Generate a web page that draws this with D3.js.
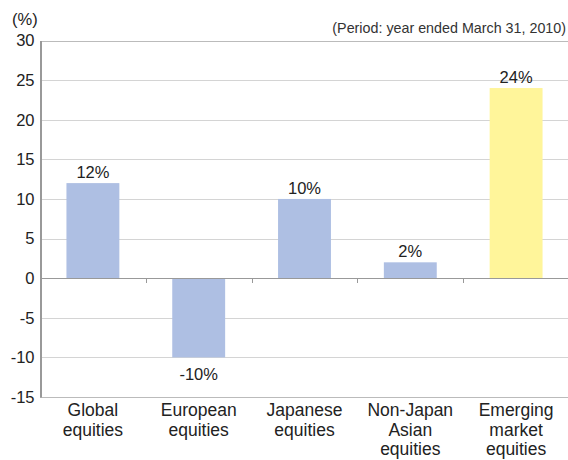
<!DOCTYPE html>
<html><head><meta charset="utf-8">
<script src="https://cdn.jsdelivr.net/npm/d3@7"></script>
<style>body{margin:0;background:#fff}svg{display:block;font-family:"Liberation Sans",Arial,sans-serif}</style>
</head><body>
<script>
const categories = [["Global","equities"],["European","equities"],["Japanese","equities"],["Non-Japan","Asian","equities"],["Emerging","market","equities"]];
const values = [12, -10, 10, 2, 24];
const barColors = ["#aebfe3","#aebfe3","#aebfe3","#aebfe3","#fff59a"];
const yTicks = [30,25,20,15,10,5,0,-5,-10,-15];

(function(){
const W=568,H=460;
const svg=d3.select("body").append("svg").attr("width",W).attr("height",H);
const mLeft=40,mRight=569,mTop=40.5,mBottom=397;
const y=d3.scaleLinear().domain([-15,30]).range([mBottom,mTop]);
const x=d3.scaleBand().domain(d3.range(categories.length)).range([mLeft,mRight]).paddingInner(0).paddingOuter(0);

// gridlines
svg.append("g").selectAll("line").data(yTicks.filter(t=>t!==0&&t!==-15)).join("line")
 .attr("x1",mLeft).attr("x2",W).attr("y1",d=>Math.round(y(d))+0.5).attr("y2",d=>Math.round(y(d))+0.5)
 .attr("stroke",d=>d===30?"#bbbbbb":"#d4d4d4").attr("stroke-width",1);

// bars
svg.append("g").selectAll("rect").data(values).join("rect")
 .attr("x",(d,i)=>x(i)+x.bandwidth()/4)
 .attr("width",x.bandwidth()/2)
 .attr("y",d=>y(Math.max(0,d)))
 .attr("height",d=>Math.abs(y(d)-y(0)))
 .attr("fill",(d,i)=>barColors[i]);

// zero line
svg.append("line").attr("x1",mLeft).attr("x2",W).attr("y1",Math.round(y(0))+0.5).attr("y2",Math.round(y(0))+0.5).attr("stroke","#999").attr("stroke-width",1);
// bottom line
svg.append("line").attr("x1",mLeft).attr("x2",W).attr("y1",Math.round(y(-15))+0.5).attr("y2",Math.round(y(-15))+0.5).attr("stroke","#bbb").attr("stroke-width",1);
// tick marks between categories at zero
svg.append("g").selectAll("line").data(d3.range(1,categories.length)).join("line")
 .attr("x1",i=>Math.round(x(i))+0.5).attr("x2",i=>Math.round(x(i))+0.5)
 .attr("y1",Math.round(y(0))).attr("y2",Math.round(y(0))+5).attr("stroke","#999");

// y axis
const ya=svg.append("g").attr("transform",`translate(${mLeft+0.5},0)`)
 .call(d3.axisLeft(y).tickValues(yTicks).tickSize(0).tickPadding(6).tickFormat(d=>String(d)));
ya.select(".domain").attr("stroke","#999").attr("stroke-width",2);
ya.selectAll("text").attr("font-size",16.5).attr("fill","#222").attr("font-family","'Liberation Sans',Arial,sans-serif");

// value labels
svg.append("g").selectAll("text").data(values).join("text")
 .attr("x",(d,i)=>x(i)+x.bandwidth()/2)
 .attr("y",d=>d>=0?y(d)-5:y(d)+22.5)
 .attr("text-anchor","middle").attr("font-size",16.5).attr("fill","#222")
 .text(d=>d+"%");

// category labels
const cl=svg.append("g").selectAll("text").data(categories).join("text")
 .attr("x",(d,i)=>x(i)+x.bandwidth()/2)
 .attr("y",416).attr("text-anchor","middle").attr("font-size",17.5).attr("fill","#222");
cl.selectAll("tspan").data(d=>d).join("tspan")
 .attr("x",function(){return d3.select(this.parentNode).attr("x");})
 .attr("dy",(d,j)=>j===0?0:19.5).text(d=>d);

// unit label
svg.append("text").attr("x",12).attr("y",25).attr("font-size",16.5).attr("fill","#222").text("(%)");
// period note
svg.append("text").attr("x",566).attr("y",33).attr("text-anchor","end").attr("font-size",14.3).attr("fill","#333").text("(Period: year ended March 31, 2010)");
})();
</script>
</body></html>
